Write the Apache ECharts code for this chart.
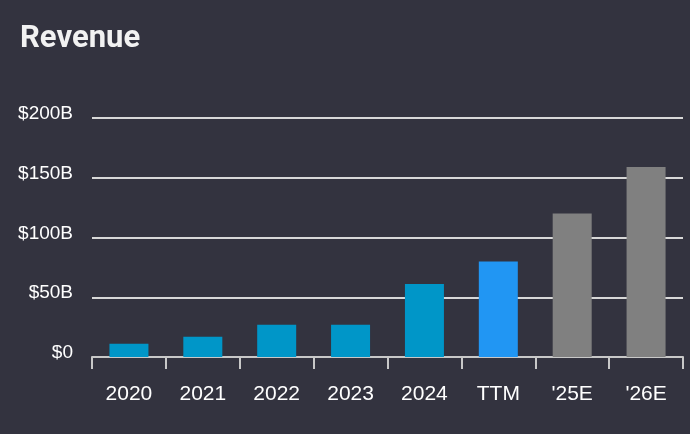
<!DOCTYPE html>
<html>
<head>
<meta charset="utf-8">
<script src="https://cdn.jsdelivr.net/npm/echarts@6/dist/echarts.min.js"></script>
<style>
  html, body { margin: 0; padding: 0; background: #33333f; }
  #chart { width: 690px; height: 434px; }
</style>
</head>
<body>
<div id="chart"></div>
<script>
// Revenue in billions
const categories = ['2020', '2021', '2022', '2023', '2024', 'TTM', "'25E", "'26E"];
const revenue = [11, 17, 27, 27, 61, 80, 120, 159];
const barColors = ['#0096c8', '#0096c8', '#0096c8', '#0096c8', '#0096c8', '#2196f3', '#808080', '#808080'];

const chart = echarts.init(document.getElementById('chart'));

const option = {
  backgroundColor: '#33333f',
  title: {
    text: 'Revenue',
    left: 15,
    top: 19,
    textStyle: {
      color: '#f2f2f2',
      fontSize: 31,
      fontWeight: 'bold',
      fontFamily: 'Roboto'
    }
  },
  grid: {
    left: 92,
    right: 7,
    top: 118,
    bottom: 77
  },
  xAxis: {
    type: 'category',
    data: categories,
    axisLine: { lineStyle: { color: '#c8c8c8', width: 2 } },
    axisTick: { show: true, length: 12, lineStyle: { color: '#c8c8c8', width: 2 } },
    axisLabel: {
      color: '#ffffff',
      fontSize: 21,
      fontFamily: 'Liberation Sans',
      margin: 27
    }
  },
  yAxis: {
    type: 'value',
    min: 0,
    max: 200,
    interval: 50,
    axisLine: { show: false },
    axisTick: { show: false },
    splitLine: { lineStyle: { color: '#d8d8d8', width: 2 } },
    axisLabel: {
      color: '#ffffff',
      fontSize: 19,
      fontFamily: 'Liberation Sans',
      margin: 19,
      verticalAlign: 'bottom',
      lineHeight: 8,
      formatter: v => v === 0 ? '$0' : '$' + v + 'B'
    }
  },
  series: [{
    type: 'bar',
    barWidth: 39,
    data: revenue.map((v, i) => ({
      value: v,
      itemStyle: { color: barColors[i] }
    })),
    z: 3
  }]
};

chart.setOption(option);
</script>
</body>
</html>
